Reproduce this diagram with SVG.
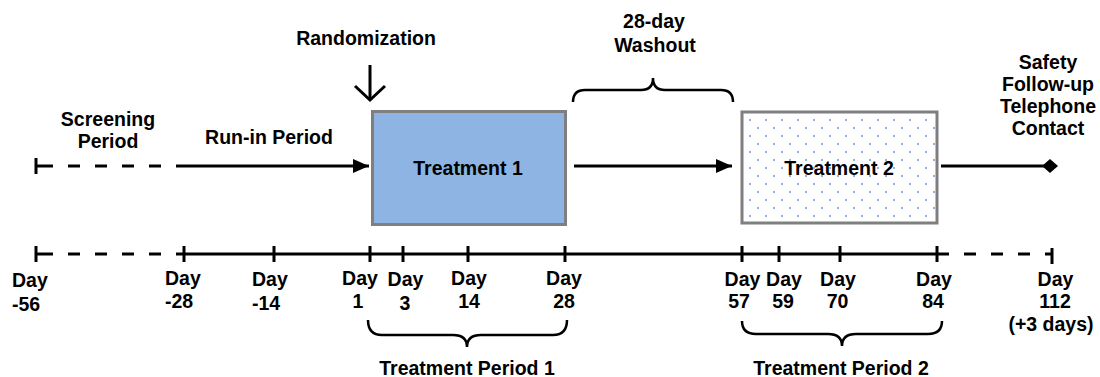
<svg xmlns="http://www.w3.org/2000/svg" width="1100" height="377" viewBox="0 0 1100 377">
<style>
text{font-family:"Liberation Sans",Arial,sans-serif;font-weight:bold;font-size:19.5px;fill:#000}
.m{text-anchor:middle}
.ln{stroke:#000;stroke-width:3;fill:none}
.ds{stroke:#000;stroke-width:3;fill:none;stroke-dasharray:12 15}
.br{stroke:#000;stroke-width:2.5;fill:none}
.box{stroke:#7f7f7f;stroke-width:3}
</style>
<defs>
<marker id="ah" markerWidth="16" markerHeight="14" refX="16" refY="7" orient="auto" markerUnits="userSpaceOnUse">
<path d="M0,0 L16,7 L0,14 Z" fill="#000"/>
</marker>
<marker id="dm" markerWidth="16" markerHeight="14" refX="8" refY="7" orient="auto" markerUnits="userSpaceOnUse">
<path d="M0,7 L8,0 L16,7 L8,14 Z" fill="#000"/>
</marker>
<pattern id="dots" patternUnits="userSpaceOnUse" x="746" y="116" width="16" height="16">
<rect x="3" y="3" width="2" height="2" fill="#8eb4e3"/>
<rect x="11" y="11" width="2" height="2" fill="#8eb4e3"/>
</pattern>
</defs>

<g id="connectors">
<!-- top row -->
<line class="ln" x1="36" y1="158" x2="36" y2="174"/>
<line class="ln" x1="36" y1="166" x2="53" y2="166"/>
<line class="ds" x1="68" y1="166" x2="184" y2="166"/>
<line class="ln" x1="184" y1="166" x2="369" y2="166" marker-end="url(#ah)"/>
<line class="ln" x1="574" y1="166" x2="732" y2="166" marker-end="url(#ah)"/>
<line class="ln" x1="941" y1="166" x2="1050" y2="166" marker-end="url(#dm)"/>
<!-- randomization arrow -->
<line class="ln" x1="370" y1="65" x2="370" y2="99" stroke-width="3.5"/>
<polyline class="ln" points="355,86 370,100 385,86" stroke-width="3.8"/>
<!-- washout brace -->
<path class="br" d="M573,102 Q573,90 585,90 L641,90 Q653,90 653,78 Q653,90 665,90 L721,90 Q733,90 733,102"/>
<!-- bottom axis -->
<line class="ln" x1="36" y1="246" x2="36" y2="262"/>
<line class="ln" x1="36" y1="254" x2="53" y2="254"/>
<line class="ds" x1="68" y1="254" x2="184" y2="254"/>
<line class="ln" x1="184" y1="254" x2="937" y2="254"/>
<line class="ds" x1="937" y1="254" x2="1052" y2="254"/>
<g class="ln">
<line x1="184" y1="246" x2="184" y2="262"/>
<line x1="274" y1="246" x2="274" y2="262"/>
<line x1="370" y1="246" x2="370" y2="262"/>
<line x1="403" y1="246" x2="403" y2="262"/>
<line x1="468" y1="246" x2="468" y2="262"/>
<line x1="565" y1="246" x2="565" y2="262"/>
<line x1="742" y1="246" x2="742" y2="262"/>
<line x1="779" y1="246" x2="779" y2="262"/>
<line x1="840" y1="246" x2="840" y2="262"/>
<line x1="937" y1="246" x2="937" y2="262"/>
<line x1="1052" y1="248" x2="1052" y2="264"/>
</g>
<!-- treatment period braces -->
<path class="br" d="M368,320 Q368,335 382,335 L453,335 Q467,335 467,347 Q467,335 481,335 L553,335 Q567,335 567,320"/>
<path class="br" d="M742,321 Q742,334 756,334 L828,334 Q842,334 842,346 Q842,334 856,334 L928,334 Q942,334 942,321"/>
</g>

<g id="treatment1">
<rect class="box" x="372.5" y="111.5" width="193" height="113" fill="#8eb4e3"/>
<text class="m" x="468" y="175">Treatment 1</text>
</g>
<g id="treatment2">
<rect class="box" x="742" y="112" width="195" height="111" fill="#fff"/>
<rect x="743.5" y="113.5" width="192" height="108" fill="url(#dots)"/>
<text class="m" x="839" y="175">Treatment 2</text>
</g>

<g id="labels">
<text class="m" x="366" y="45">Randomization</text>
<text class="m" x="654" y="28">28-day</text>
<text class="m" x="655" y="52">Washout</text>
<text class="m" x="108" y="126">Screening</text>
<text class="m" x="108" y="148">Period</text>
<text class="m" x="269" y="144">Run-in Period</text>
<text class="m" x="1048" y="69">Safety</text>
<text class="m" x="1048" y="91">Follow-up</text>
<text class="m" x="1048" y="113">Telephone</text>
<text class="m" x="1048" y="135">Contact</text>
<text class="m" x="467" y="375">Treatment Period 1</text>
<text class="m" x="841" y="375">Treatment Period 2</text>
</g>

<g id="days">
<text x="12" y="287">Day</text><text x="12" y="311">-56</text>
<text x="165" y="285">Day</text><text x="165" y="308">-28</text>
<text x="252" y="286">Day</text><text x="252" y="310">-14</text>
<text class="m" x="360" y="285">Day</text><text class="m" x="358" y="308">1</text>
<text class="m" x="405.5" y="286">Day</text><text class="m" x="405" y="310">3</text>
<text class="m" x="469" y="285">Day</text><text class="m" x="469" y="308">14</text>
<text class="m" x="564" y="285">Day</text><text class="m" x="564" y="308">28</text>
<text class="m" x="742.5" y="286">Day</text><text class="m" x="739" y="308">57</text>
<text class="m" x="784" y="286">Day</text><text class="m" x="783" y="308">59</text>
<text class="m" x="838" y="286">Day</text><text class="m" x="837.5" y="308">70</text>
<text class="m" x="934" y="286">Day</text><text class="m" x="933" y="308">84</text>
<text class="m" x="1055.5" y="286">Day</text><text class="m" x="1055" y="308">112</text>
<text class="m" x="1051" y="331">(+3 days)</text>
</g>
</svg>
